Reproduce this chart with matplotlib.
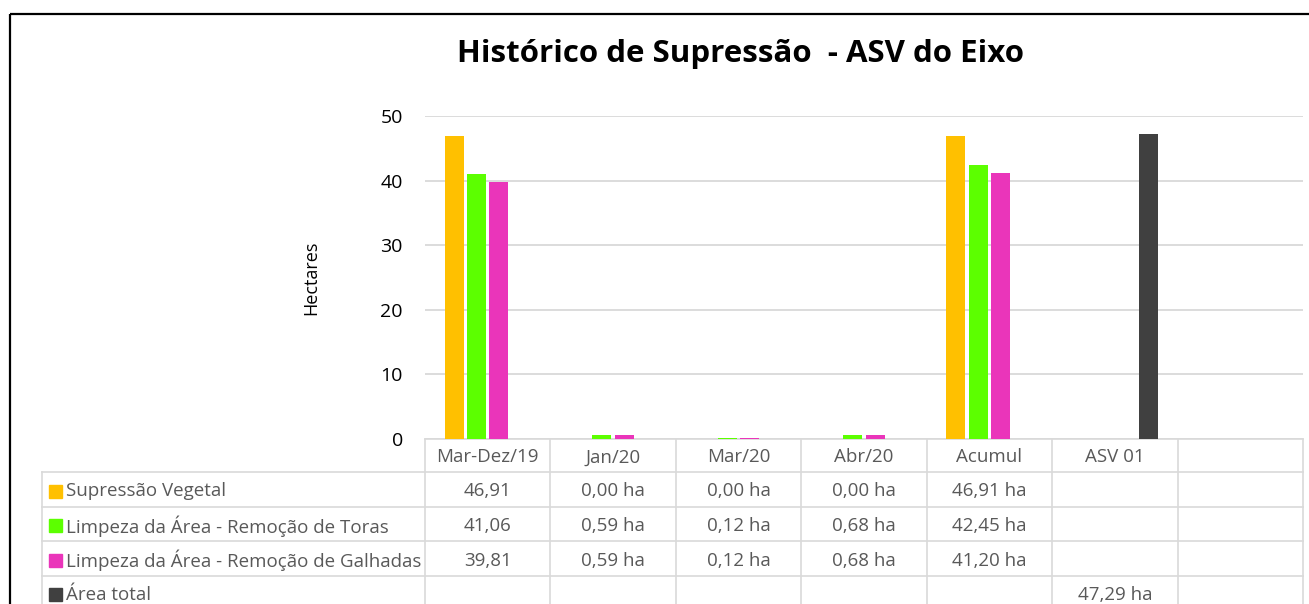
import numpy as np
import matplotlib
matplotlib.use("Agg")
import matplotlib.pyplot as plt
from matplotlib import transforms
from matplotlib.patches import Rectangle

plt.rcParams['font.family'] = ['Open Sans', 'DejaVu Sans']

# data
categories = ['Mar-Dez/19', 'Jan/20', 'Mar/20', 'Abr/20', 'Acumul', 'ASV 01', '']
series_names = ['Supressão Vegetal',
                'Limpeza da Área - Remoção de Toras',
                'Limpeza da Área - Remoção de Galhadas',
                'Área total']
supressao = [46.91, 0.00, 0.00, 0.00, 46.91, None, None]
toras = [41.06, 0.59, 0.12, 0.68, 42.45, None, None]
galhadas = [39.81, 0.59, 0.12, 0.68, 41.20, None, None]
area_total = [None, None, None, None, None, 47.29, None]
units = ['', ' ha', ' ha', ' ha', ' ha', ' ha', ' ha']
colors = ['#FFC000', '#5CFF00', '#EA35BA', '#404040']

all_series = [supressao, toras, galhadas, area_total]

W, H = 1309, 604
fig = plt.figure(figsize=(W / 100, H / 100), dpi=100)

def fx(px):
    return px / W

def fy(py):
    return 1 - py / H

# pixel overlay for frame / table
tab = fig.add_axes([0, 0, 1, 1], zorder=0)
tab.set_xlim(0, W)
tab.set_ylim(H, 0)
tab.axis('off')

ax_left, ax_right, ax_top, ax_bot = 425, 1303, 116, 439
ax = fig.add_axes([fx(ax_left), fy(ax_bot), fx(ax_right - ax_left), (ax_bot - ax_top) / H], zorder=1)
ax.patch.set_alpha(0)

n_cat = len(categories)
x = np.arange(n_cat)
n_s = len(all_series)
step = 0.179
bw = 0.152
for i, (vals, c) in enumerate(zip(all_series, colors)):
    v = np.array([np.nan if t is None else t for t in vals])
    ax.bar(x + (i - (n_s - 1) / 2) * step, v, width=bw, color=c, zorder=3)

ax.set_xlim(-0.5, n_cat - 0.5)
ax.set_ylim(0, 50)
ax.set_yticks([0, 10, 20, 30, 40, 50])
ax.tick_params(axis='y', length=0, labelsize=14, pad=16)
ax.set_xticks([])
ax.grid(axis='y', color='#D9D9D9', linewidth=1.3, zorder=0)
for s in ['left', 'right', 'top', 'bottom']:
    ax.spines[s].set_visible(False)
ax.set_ylabel('Hectares', fontsize=13)
ax.yaxis.set_label_coords((320 - ax_left) / (ax_right - ax_left), 0.5)

# title
fig.text(fx(741), fy(54), 'Histórico de Supressão  - ASV do Eixo', fontsize=22.5,
         fontweight='bold', ha='center', va='center')

# outer frame
tab.add_patch(Rectangle((10, 14), 1400, 700, fill=False, edgecolor='black', linewidth=1.6,
                        clip_on=False))

# data table under the axis
grid_c = '#D9D9D9'
txt_c = '#595959'
bx = transforms.blended_transform_factory(ax.transData, tab.transData)
row_edges = [439, 472, 507, 541, 576, 640]
left_px = 42

for k in range(n_cat + 1):
    tab.plot([k - 0.5, k - 0.5], [row_edges[0], row_edges[-1]], color=grid_c, lw=1.2,
             transform=bx, clip_on=False)
tab.plot([left_px, left_px], [row_edges[1], row_edges[-1]], color=grid_c, lw=1.2)
tab.plot([ax_left, ax_right], [row_edges[0], row_edges[0]], color=grid_c, lw=1.2)
for r in row_edges[1:-1]:
    tab.plot([left_px, ax_right], [r, r], color=grid_c, lw=1.2)

fs = 13.5
for k, cat in enumerate(categories):
    tab.text(k, (row_edges[0] + row_edges[1]) / 2 + 2, cat, transform=bx, ha='center',
             va='center', fontsize=fs, color=txt_c)

for j, (name, vals, c) in enumerate(zip(series_names, all_series, colors)):
    yc = (row_edges[j + 1] + row_edges[j + 2]) / 2 + 2
    if j == len(series_names) - 1:
        yc = 595
    tab.add_patch(Rectangle((49, yc - 7), 13, 13, color=c))
    tab.text(66, yc, name, ha='left', va='center', fontsize=fs, color=txt_c)
    for k, v in enumerate(vals):
        if v is None:
            continue
        label = f'{v:.2f}'.replace('.', ',') + units[k]
        tab.text(k, yc, label, transform=bx, ha='center', va='center', fontsize=fs, color=txt_c)

fig.savefig('out.png', dpi=100)
